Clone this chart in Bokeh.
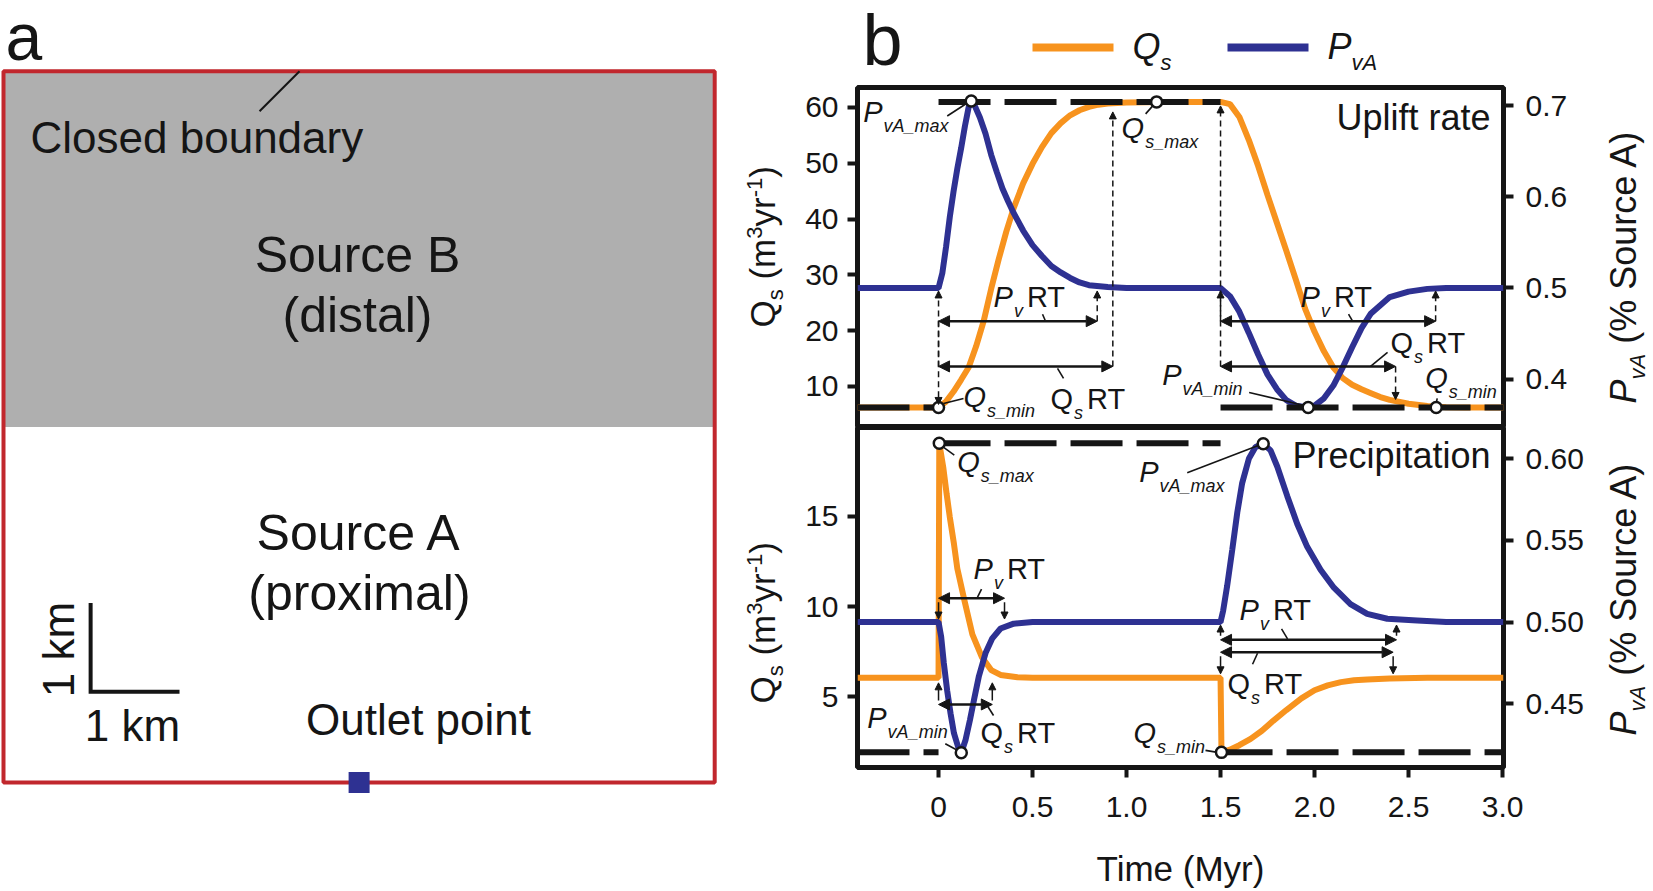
import math
from bokeh.plotting import figure
from bokeh.models import (Range1d, LinearAxis, FixedTicker, Label, Arrow, NormalHead,
                          PrintfTickFormatter, CustomJSTickFormatter)
from bokeh.layouts import row, column
from bokeh.embed import file_html
from bokeh.resources import INLINE
from bokeh.core.properties import value

FONT = "Liberation Sans"
ORANGE = "#F7931E"
BLUE = "#2E3192"
INK = "#151515"
RED = "#C1272D"
GRAY = "#AFAFAF"
MID = 0.36  # cap-centre offset (em) used with "middle" baselines

# ============================ DATA ============================
TIME_START, TIME_END = -0.431, 3.005
STEP_ON, STEP_OFF = 0.0, 1.5
TIME_TICKS = [0, 0.5, 1.0, 1.5, 2.0, 2.5, 3.0]

# --- uplift-rate experiment ---
UPLIFT_QS_RANGE = (2.65, 63.58)
UPLIFT_PVA_RANGE = (0.347, 0.7198)
UPLIFT_QS_TICKS = [10, 20, 30, 40, 50, 60]
UPLIFT_PVA_TICKS = [0.4, 0.5, 0.6, 0.7]
uplift_qs_t = [-0.431, 0.0, 0.04, 0.08, 0.12, 0.16, 0.20, 0.24, 0.28, 0.32, 0.36, 0.40,
               0.45, 0.50, 0.55, 0.60, 0.65, 0.70, 0.75, 0.80, 0.85, 0.90, 1.0, 1.2, 1.5,
               1.55, 1.60, 1.65, 1.70, 1.75, 1.80, 1.85, 1.90, 1.95, 2.00, 2.05, 2.10, 2.15,
               2.20, 2.25, 2.30, 2.35, 2.40, 2.50, 2.60, 2.70, 2.80, 3.005]
uplift_qs = [6.24, 6.24, 7.3, 9.1, 11.2, 13.4, 17.2, 21.7, 27.5, 32.8, 37.7, 42.0,
             46.4, 49.9, 52.9, 55.4, 57.2, 58.6, 59.5, 60.1, 60.5, 60.7, 60.9, 61.0, 61.0,
             60.6, 58.3, 54.2, 49.5, 44.3, 39.3, 34.3, 29.2, 23.9, 19.8, 16.3, 13.4, 11.5,
             10.3, 9.5, 8.8, 8.1, 7.6, 6.9, 6.5, 6.3, 6.24, 6.24]
uplift_pva_t = [-0.431, 0.0, 0.02, 0.04, 0.06, 0.08, 0.10, 0.12, 0.14, 0.16, 0.174, 0.19,
                0.22, 0.25, 0.28, 0.31, 0.34, 0.37, 0.40, 0.45, 0.50, 0.55, 0.60, 0.65, 0.70,
                0.75, 0.80, 0.90, 1.0, 1.5, 1.55, 1.60, 1.65, 1.70, 1.75, 1.80, 1.85, 1.90,
                1.966, 2.00, 2.05, 2.10, 2.15, 2.20, 2.25, 2.30, 2.35, 2.40, 2.50, 2.60, 2.70, 3.005]
uplift_pva = [0.5, 0.5, 0.516, 0.545, 0.578, 0.606, 0.631, 0.653, 0.677, 0.698, 0.705, 0.701,
              0.687, 0.669, 0.646, 0.627, 0.609, 0.595, 0.582, 0.563, 0.547, 0.535, 0.524, 0.517, 0.511,
              0.506, 0.503, 0.501, 0.5, 0.5, 0.491, 0.474, 0.451, 0.427, 0.405, 0.389, 0.377, 0.371,
              0.369, 0.371, 0.379, 0.393, 0.413, 0.435, 0.456, 0.472, 0.481, 0.490, 0.496, 0.499, 0.5, 0.5]
uplift_qs_min, uplift_qs_max = 6.24, 61.0
uplift_qs_max_t = 1.16
uplift_qs_min_t = [0.0, 2.647]
uplift_pva_max_pt = (0.174, 0.705)
uplift_pva_min_pt = (1.966, 0.369)
uplift_rt = {"pv_on": 0.844, "qs_on": 0.927, "pv_off": 1.144, "qs_off": 0.931}

# --- precipitation experiment ---
PRECIP_QS_RANGE = (1.06, 19.94)
PRECIP_PVA_RANGE = (0.411, 0.619)
PRECIP_QS_TICKS = [5, 10, 15]
PRECIP_PVA_TICKS = [0.45, 0.50, 0.55, 0.60]
precip_qs_t = [-0.431, 0.0, 0.004, 0.025, 0.043, 0.060, 0.082, 0.10, 0.135, 0.18, 0.23, 0.28,
               0.33, 0.42, 0.5, 1.5, 1.505, 1.55, 1.60, 1.66, 1.72, 1.78, 1.85, 1.93, 2.0, 2.07,
               2.14, 2.21, 2.28, 2.40, 2.6, 3.005]
precip_qs = [6.04, 6.04, 19.07, 17.74, 16.26, 14.96, 13.48, 12.1, 10.46, 8.45, 7.2, 6.47,
             6.2, 6.07, 6.04, 6.04, 1.9, 2.05, 2.3, 2.65, 3.1, 3.65, 4.25, 4.9, 5.35, 5.62,
             5.8, 5.9, 5.95, 6.0, 6.04, 6.04]
precip_pva_t = [-0.431, 0.0, 0.014, 0.028, 0.046, 0.064, 0.082, 0.103, 0.121, 0.144, 0.167, 0.188,
                0.215, 0.25, 0.286, 0.33, 0.40, 0.5, 1.5, 1.514, 1.535, 1.562, 1.589, 1.615, 1.651,
                1.686, 1.727, 1.766, 1.802, 1.855, 1.908, 1.961, 2.032, 2.103, 2.191, 2.28, 2.387,
                2.546, 2.7, 3.005]
precip_pva = [0.5, 0.5, 0.491, 0.475, 0.458, 0.444, 0.432, 0.424, 0.420, 0.428, 0.440, 0.452,
              0.467, 0.481, 0.490, 0.496, 0.499, 0.5, 0.5, 0.507, 0.522, 0.544, 0.567, 0.585, 0.600,
              0.607, 0.609, 0.605, 0.595, 0.577, 0.560, 0.546, 0.532, 0.521, 0.511, 0.505, 0.502,
              0.501, 0.5, 0.5]
precip_qs_min_pt = (1.505, 1.9)
precip_qs_max_pt = (0.004, 19.07)
precip_pva_max_pt = (1.727, 0.609)
precip_pva_min_pt = (0.121, 0.420)
precip_qs_base = 6.04
precip_rt = {"pv_on": 0.351, "qs_on": 0.286, "pv_off": 0.936, "qs_off": 0.918}

# ============================ LAYOUT ============================
PAGE_W, PAGE_H = 1653, 891
A_W = 728
L_W = 72
R_W = 63
COL_W = PAGE_W - A_W - L_W - R_W
COL_X0 = A_W + L_W
HEAD_H = 84
B_LEFT = 57
FRAME_W = 646
FRAME_X0 = COL_X0 + B_LEFT
B_RIGHT = COL_W - B_LEFT - FRAME_W
FRAME_H = 340
TOP_H = FRAME_H + 3
BOT_B = PAGE_H - HEAD_H - TOP_H - FRAME_H
BOT_H = FRAME_H + BOT_B
PX_T = FRAME_W / (TIME_END - TIME_START)

W = {"a": .556, "m": .833, "x": .5, "i": .222, "n": .556, "s": .5, "v": .5, "A": .667, "_": .556,
     "P": .667, "Q": .778, "R": .722, "T": .611, " ": .278, "(": .333, ")": .333, "%": .889,
     "S": .667, "o": .556, "u": .556, "r": .333, "c": .5, "e": .556, "y": .5, "3": .556,
     "-": .333, "1": .556}


def tw(s, size):
    return sum(W[c] for c in s) * size


def bare(width, height, xr, yr):
    f = figure(width=width, height=height, x_range=xr, y_range=yr,
               min_border_left=0, min_border_right=0, min_border_top=0, min_border_bottom=0,
               x_axis_location=None, y_axis_location=None, output_backend="svg", toolbar_location=None,
               background_fill_color="white", border_fill_color="white")
    f.grid.visible = False
    f.outline_line_color = None
    return f


def gtext(f, x, y, s, size, align="left", italic=False, angle=0.0):
    f.text(x=[x], y=[y], text=[s], angle=angle, text_font=value(FONT), text_font_size=f"{size}px",
           text_font_style="italic" if italic else "normal", text_color=INK,
           text_align=align, text_baseline="middle")


XR = Range1d(TIME_START, TIME_END)


def style_axis(ax, ticks, fmt, standoff):
    ax.ticker = FixedTicker(ticks=ticks)
    ax.formatter = fmt
    ax.axis_line_color = None
    ax.major_tick_line_color = INK
    ax.major_tick_line_width = 4
    ax.major_tick_out = 10
    ax.major_tick_in = 0
    ax.minor_tick_line_color = None
    ax.major_label_text_font = FONT
    ax.major_label_text_font_size = "30px"
    ax.major_label_text_color = INK
    ax.major_label_standoff = standoff


def make_panel(height, q_rng, p_rng, q_ticks, p_ticks, p_fmt, mb_top, mb_bottom, show_x):
    p = figure(width=COL_W, height=height, x_range=XR, y_range=Range1d(*q_rng),
               min_border_left=B_LEFT, min_border_right=B_RIGHT,
               min_border_top=mb_top, min_border_bottom=mb_bottom,
               x_axis_location="below" if show_x else None, y_axis_location="left",
               output_backend="svg", toolbar_location=None,
               background_fill_color="white", border_fill_color="white")
    p.grid.visible = False
    p.outline_line_color = INK
    p.outline_line_width = 5
    p.outline_line_alpha = 1
    p.extra_y_ranges = {"pva": Range1d(*p_rng)}
    style_axis(p.yaxis[0], q_ticks, PrintfTickFormatter(format="%d"), 9)
    rax = LinearAxis(y_range_name="pva")
    style_axis(rax, p_ticks, PrintfTickFormatter(format=p_fmt), 12)
    p.add_layout(rax, "right")
    if show_x:
        xa = p.xaxis[0]
        style_axis(xa, TIME_TICKS, CustomJSTickFormatter(code="return tick == 0 ? '0' : tick.toFixed(1);"), 19)
        xa.axis_label = "Time (Myr)"
        xa.axis_label_text_font = FONT
        xa.axis_label_text_font_size = "35px"
        xa.axis_label_text_font_style = "normal"
        xa.axis_label_text_color = INK
        xa.axis_label_standoff = 29
    return p


class Panel:
    def __init__(self, p, q_rng, p_rng):
        self.p = p
        self.q0, self.q1 = q_rng
        self.p0, self.p1 = p_rng
        self.pxq = FRAME_H / (self.q1 - self.q0)

    def q_of(self, v):
        return self.q0 + (v - self.p0) * (self.q1 - self.q0) / (self.p1 - self.p0)

    def pos(self, t, q, d):
        return t + d[0] / PX_T, q - d[1] / self.pxq

    def put(self, t, q, dx, dy, s, size, italic):
        self.p.text(x=[t], y=[q], text=[s], x_offset=dx, y_offset=dy - MID * size,
                    text_font=value(FONT), text_font_size=f"{size}px",
                    text_font_style="italic" if italic else "normal", text_color=INK,
                    text_align="left", text_baseline="middle")

    def rich(self, t, q, dx, dy, main, sub, tail=None, main_italic=True, big=29, small=18):
        self.put(t, q, dx, dy, main, big, main_italic)
        self.put(t, q, dx + tw(main, big) + 1, dy + 10, sub, small, True)
        if tail:
            self.put(t, q, dx + tw(main, big) + tw(sub, small) + 5, dy, tail, big, False)

    def leader(self, t, q, d0, d1):
        x0, y0 = self.pos(t, q, d0)
        x1, y1 = self.pos(t, q, d1)
        self.p.segment(x0=[x0], y0=[y0], x1=[x1], y1=[y1], line_color=INK, line_width=1.6)

    def harrow(self, t0, t1, q):
        self.p.add_layout(Arrow(x_start=t0, y_start=q, x_end=t1, y_end=q, line_color=INK, line_width=2.5,
                                start=NormalHead(size=11, fill_color=INK, line_color=INK),
                                end=NormalHead(size=11, fill_color=INK, line_color=INK)))

    def varrow(self, t, q0, q1, dashed):
        self.p.add_layout(Arrow(x_start=t, y_start=q0, x_end=t, y_end=q1, line_color=INK, line_width=1.5,
                                line_dash="6 4" if dashed else "solid",
                                end=NormalHead(size=7, fill_color=INK, line_color=INK, line_width=1)))

    def dashed(self, t0, t1, q):
        self.p.line([t0, t1], [q, q], line_color=INK, line_width=6, line_dash="52 14")

    def circles(self, ts, qs):
        self.p.scatter(ts, qs, marker="circle", size=11, fill_color="white", line_color=INK, line_width=2.5)

    def corner(self, text, depth):
        self.p.add_layout(Label(x=FRAME_W - 13, y=FRAME_H - depth + MID * 36, x_units="screen",
                                y_units="screen", text=text, text_font=FONT, text_font_size="36px",
                                text_color=INK, text_align="right", text_baseline="middle"))


# ---------------- uplift panel ----------------
top = make_panel(TOP_H, UPLIFT_QS_RANGE, UPLIFT_PVA_RANGE, UPLIFT_QS_TICKS, UPLIFT_PVA_TICKS,
                 "%.1f", 3, 0, False)
U = Panel(top, UPLIFT_QS_RANGE, UPLIFT_PVA_RANGE)
top.line(uplift_qs_t, uplift_qs, line_color=ORANGE, line_width=6)
top.line(uplift_pva_t, uplift_pva, y_range_name="pva", line_color=BLUE, line_width=6)
U.dashed(STEP_ON, STEP_OFF, uplift_qs_max)
U.dashed(TIME_START, STEP_ON, uplift_qs_min)
U.dashed(STEP_OFF, TIME_END, uplift_qs_min)

u_pv_row, u_qs_row = 21.7, 13.6
u_base = U.q_of(0.5)
U.harrow(STEP_ON, STEP_ON + uplift_rt["pv_on"], u_pv_row)
U.harrow(STEP_ON, STEP_ON + uplift_rt["qs_on"], u_qs_row)
U.harrow(STEP_OFF, STEP_OFF + uplift_rt["pv_off"], u_pv_row)
U.harrow(STEP_OFF, STEP_OFF + uplift_rt["qs_off"], u_qs_row)
U.varrow(STEP_ON, u_qs_row, u_base - 3 / U.pxq, True)
U.varrow(STEP_ON, u_pv_row, uplift_qs_min + 3 / U.pxq, True)
U.varrow(STEP_ON + uplift_rt["pv_on"], u_pv_row, u_base - 3 / U.pxq, True)
U.varrow(STEP_ON + uplift_rt["qs_on"], u_qs_row, uplift_qs_max - 10 / U.pxq, True)
U.varrow(STEP_OFF, u_qs_row, uplift_qs_max - 4 / U.pxq, True)
U.varrow(STEP_OFF, u_pv_row, u_base - 3 / U.pxq, True)
U.varrow(STEP_OFF + uplift_rt["pv_off"], u_pv_row, u_base - 3 / U.pxq, True)
U.varrow(STEP_OFF + uplift_rt["qs_off"], u_qs_row, uplift_qs_min + 8 / U.pxq, True)

a1 = (uplift_pva_max_pt[0], U.q_of(uplift_pva_max_pt[1]))
U.rich(*a1, -108, 21, "P", "vA_max"); U.leader(*a1, (-24, 15), (-4, 2))
a2 = (uplift_qs_max_t, uplift_qs_max)
U.rich(*a2, -35, 37, "Q", "s_max"); U.leader(*a2, (-11, 12), (-3, 3))
a3 = (uplift_qs_min_t[0], uplift_qs_min)
U.rich(*a3, 25, 0, "Q", "s_min"); U.leader(*a3, (5, -4), (25, -9))
a4 = (uplift_pva_min_pt[0], U.q_of(uplift_pva_min_pt[1]))
U.rich(*a4, -146, -22, "P", "vA_min"); U.leader(*a4, (-59, -15), (-4, -2))
a5 = (uplift_qs_min_t[1], uplift_qs_min)
U.rich(*a5, -11, -19, "Q", "s_min"); U.leader(*a5, (1, -9), (0, -4))
U.rich(STEP_ON, u_qs_row, 112, 43, "Q", "s", "RT", main_italic=False)
U.leader(STEP_ON, u_qs_row, (119, 2), (125, 12))
U.rich(STEP_ON, u_pv_row, 55, -14, "P", "v", "RT")
U.leader(STEP_ON, u_pv_row, (104, -7), (107, 0))
U.rich(STEP_OFF, u_pv_row, 80, -14, "P", "v", "RT")
U.leader(STEP_OFF, u_pv_row, (128, -7), (132, 0))
U.rich(STEP_OFF, u_qs_row, 170, -13, "Q", "s", "RT", main_italic=False)
U.leader(STEP_OFF, u_qs_row, (167, -14), (150, 0))
U.circles([a1[0], a2[0], a3[0], a4[0], a5[0]], [a1[1], a2[1], a3[1], a4[1], a5[1]])
U.corner("Uplift rate", 43)

# ---------------- precipitation panel ----------------
bot = make_panel(BOT_H, PRECIP_QS_RANGE, PRECIP_PVA_RANGE, PRECIP_QS_TICKS, PRECIP_PVA_TICKS,
                 "%.2f", 0, BOT_B, True)
B = Panel(bot, PRECIP_QS_RANGE, PRECIP_PVA_RANGE)
bot.line(precip_qs_t, precip_qs, line_color=ORANGE, line_width=6)
bot.line(precip_pva_t, precip_pva, y_range_name="pva", line_color=BLUE, line_width=6)
B.dashed(STEP_ON, STEP_OFF, precip_qs_max_pt[1])
B.dashed(TIME_START, STEP_ON, precip_qs_min_pt[1])
B.dashed(STEP_OFF, TIME_END, precip_qs_min_pt[1])

p_pv_on, p_qs_on, p_pv_off, p_qs_off = 10.46, 4.56, 8.15, 7.46
p_base = B.q_of(0.5)
B.harrow(STEP_ON, STEP_ON + precip_rt["pv_on"], p_pv_on)
B.harrow(STEP_ON, STEP_ON + precip_rt["qs_on"], p_qs_on)
B.harrow(STEP_OFF, STEP_OFF + precip_rt["pv_off"], p_pv_off)
B.harrow(STEP_OFF, STEP_OFF + precip_rt["qs_off"], p_qs_off)
for tt in (STEP_ON, STEP_ON + precip_rt["pv_on"]):
    B.varrow(tt, p_pv_on - 4 / B.pxq, p_base + 3 / B.pxq, False)
for tt in (STEP_ON, STEP_ON + precip_rt["qs_on"]):
    B.varrow(tt, p_qs_on + 4 / B.pxq, precip_qs_base - 5 / B.pxq, False)
for tt in (STEP_OFF, STEP_OFF + precip_rt["pv_off"]):
    B.varrow(tt, p_pv_off + 4 / B.pxq, p_base - 3 / B.pxq, False)
for tt in (STEP_OFF, STEP_OFF + precip_rt["qs_off"]):
    B.varrow(tt, p_qs_off - 4 / B.pxq, precip_qs_base + 4 / B.pxq, False)

b1 = precip_qs_max_pt
B.rich(*b1, 18, 29, "Q", "s_max"); B.leader(*b1, (4, 4), (15, 12))
b2 = (precip_pva_max_pt[0], B.q_of(precip_pva_max_pt[1]))
B.rich(*b2, -124, 39, "P", "vA_max"); B.leader(*b2, (-76, 29), (-3, 1))
b3 = (precip_pva_min_pt[0], B.q_of(precip_pva_min_pt[1]))
B.rich(*b3, -94, -24, "P", "vA_min"); B.leader(*b3, (-16, -9), (-3, -2))
b4 = precip_qs_min_pt
B.rich(*b4, -88, -9, "Q", "s_min"); B.leader(*b4, (-16, -2), (-4, 0))
B.rich(STEP_ON, p_pv_on, 35, -19, "P", "v", "RT"); B.leader(STEP_ON, p_pv_on, (43, -9), (39, -1))
B.rich(STEP_ON, p_qs_on, 42, 39, "Q", "s", "RT", main_italic=False); B.leader(STEP_ON, p_qs_on, (55, 11), (48, 0))
B.rich(STEP_OFF, p_pv_off, 19, -19, "P", "v", "RT"); B.leader(STEP_OFF, p_pv_off, (61, -11), (67, -1))
B.rich(STEP_OFF, p_qs_off, 7, 42, "Q", "s", "RT", main_italic=False); B.leader(STEP_OFF, p_qs_off, (32, 12), (37, 1))
B.circles([b1[0], b2[0], b3[0], b4[0]], [b1[1], b2[1], b3[1], b4[1]])
B.corner("Precipitation", 41)

# ---------------- header: panel letter + legend (frame aligned with the panels) ----------------
head = bare(COL_W, HEAD_H, Range1d(FRAME_X0, FRAME_X0 + FRAME_W), Range1d(0, HEAD_H))
gtext(head, 862, HEAD_H - 39, "b", 72)
LEGEND = [("Q", "s", ORANGE, 1032), ("P", "vA", BLUE, 1227)]
for main, sub, col, x0 in LEGEND:
    head.line([x0, x0 + 81], [HEAD_H - 47, HEAD_H - 47], line_color=col, line_width=8)
    gtext(head, x0 + 100, HEAD_H - 59 + MID * 36, main, 36, italic=True)
    gtext(head, x0 + 100 + tw(main, 36), HEAD_H - 70 + MID * 22, sub, 22, italic=True)

# ---------------- rotated axis titles (left and right strips) ----------------
lstrip = bare(L_W, PAGE_H, Range1d(A_W, A_W + L_W), Range1d(0, PAGE_H))
rstrip = bare(R_W, PAGE_H, Range1d(PAGE_W - R_W, PAGE_W), Range1d(0, PAGE_H))


def vtext(f, xb, ystart, pieces):
    adv = 0.0
    for text, size, italic, shift in pieces:
        lead = len(text) - len(text.lstrip(" "))
        adv += tw(" " * lead, size)
        body = text.lstrip(" ")
        gtext(f, xb + shift - MID * size, PAGE_H - ystart + adv, body, size, "left", italic, math.pi / 2)
        adv += tw(body, size)


QS_TITLE = [("Q", 35, False, 0), ("s", 22, False, 8), (" (m", 35, False, 0), ("3", 22, False, -13),
            ("yr", 35, False, 0), ("-1", 22, False, -13), (")", 35, False, 0)]
PVA_TITLE = [("P", 36, True, 0), ("vA", 22, True, 9), (" (% Source A)", 36, False, 0)]
vtext(lstrip, 775, 327, QS_TITLE)
vtext(lstrip, 775, 703, QS_TITLE)
vtext(rstrip, 1636, 403, PVA_TITLE)
vtext(rstrip, 1636, 735, PVA_TITLE)

# ---------------- panel a: model domain ----------------
KM = 88.9
DOMAIN_W, DOMAIN_H = 8.0, 8.0
SCALE_ORIGIN = (0.98, 1.02)
OUTLET_X = 4.0
pa = bare(A_W, PAGE_H, Range1d(-3 / KM, (A_W - 3) / KM), Range1d(-109 / KM, 782 / KM))
pa.quad(left=[0], right=[DOMAIN_W], bottom=[DOMAIN_H / 2], top=[DOMAIN_H], fill_color=GRAY, line_color=None)
pa.quad(left=[0], right=[DOMAIN_W], bottom=[0], top=[DOMAIN_H], fill_alpha=0, line_color=RED, line_width=4)
pa.segment(x0=[2.88], y0=[7.55], x1=[3.33], y1=[DOMAIN_H], line_color=INK, line_width=2)
sx, sy = SCALE_ORIGIN
pa.line([sx, sx, sx + 1], [sy + 1, sy, sy], line_color=INK, line_width=4, line_join="miter")
pa.scatter([OUTLET_X], [0], marker="square", size=21, fill_color=BLUE, line_color=None)

gtext(pa, 0.0225, 8.389, "a", 66)
gtext(pa, 0.304, 7.255, "Closed boundary", 44)
gtext(pa, 3.982, 5.939, "Source B", 50, "center")
gtext(pa, 3.982, 5.264, "(distal)", 50, "center")
gtext(pa, 4.004, 2.801, "Source A", 50, "center")
gtext(pa, 4.004, 2.126, "(proximal)", 50, "center")
gtext(pa, 4.668, 0.709, "Outlet point", 44, "center")
gtext(pa, 1.451, 0.641, "1 km", 44, "center")
gtext(pa, 0.619, 1.496, "1 km", 44, "center", angle=math.pi / 2)

layout = row(pa, lstrip, column(head, top, bot), rstrip)
open("out.html", "w").write(file_html(layout, INLINE))
